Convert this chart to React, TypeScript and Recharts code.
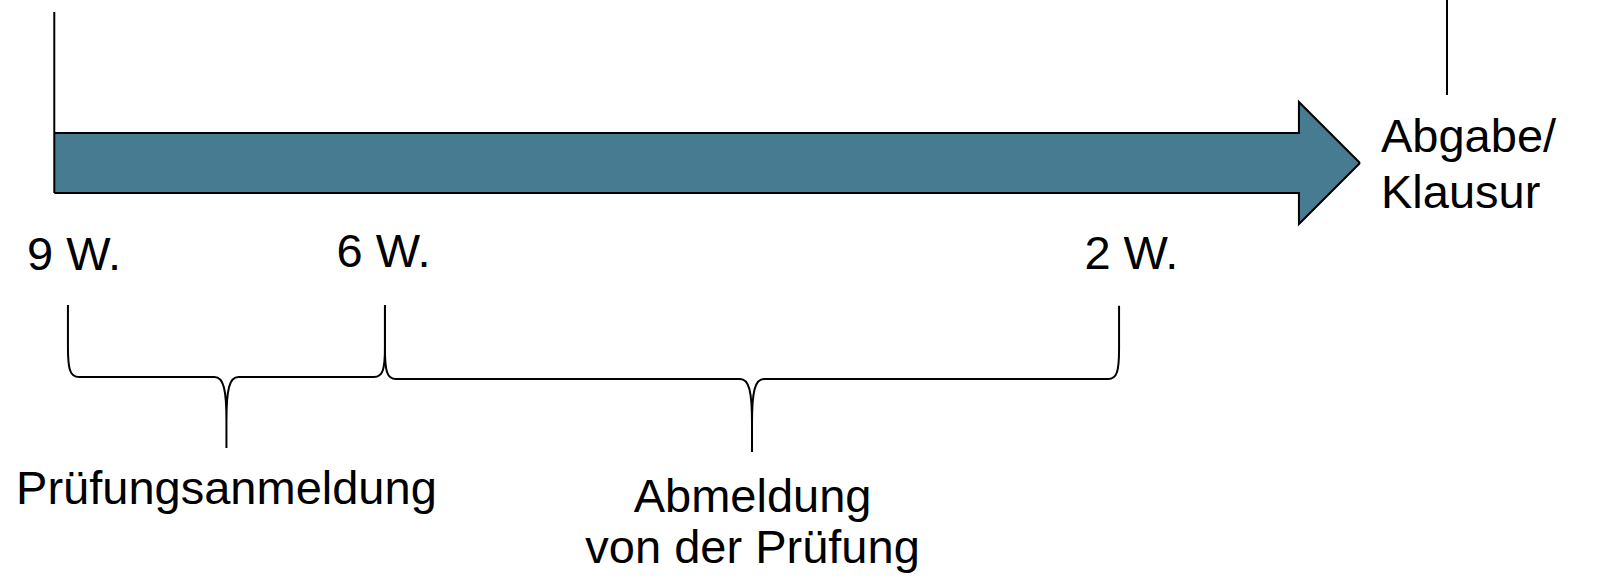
import { ComposedChart, XAxis, YAxis, Area, Scatter, ReferenceLine, ReferenceArea } from 'recharts'

// positions are on a 0–100 scale across the width (x) and down the height (y)
const ARROW_X = [3.38, 80.88, 80.88, 84.68]
const ARROW_TOP = [23.05, 23.05, 17.68, 28.25]
const ARROW_BOTTOM = [33.45, 33.45, 38.82, 28.25]

const MARKER_X = [3.38, 90.1]
const MARKER_FROM = [2.08, 0]
const MARKER_TO = [33.45, 16.46]

const WEEK_LABELS = ['9 W.', '6 W.', '2 W.']
const WEEK_X = [4.61, 23.88, 70.45]
const WEEK_Y = [46.79, 46.27, 46.62]

const BRACE_FROM = [4.23, 23.97]
const BRACE_TO = [23.97, 69.68]
const BRACE_TOP = [52.86, 53.0]
const BRACE_LEVEL = [65.34, 65.68]
const BRACE_TIP = [77.64, 78.34]

const PHASE_LINES = ['Prüfungsanmeldung', 'Abmeldung', 'von der Prüfung']
const PHASE_X = [14.1, 46.86, 46.86]
const PHASE_Y = [87.35, 88.73, 97.57]

const END_LINES = ['Abgabe/', 'Klausur']
const END_X = [85.99, 85.99]
const END_Y = [26.34, 36.05]

const ARROW_FILL = '#467b92'
const INK = '#000000'
const FONT = '"Liberation Sans", Arial, sans-serif'

const arrowData = ARROW_X.map((x, i) => ({ x, range: [ARROW_TOP[i], ARROW_BOTTOM[i]] }))
const weekData = WEEK_LABELS.map((label, i) => ({ x: WEEK_X[i], y: WEEK_Y[i], label }))
const phaseData = PHASE_LINES.map((label, i) => ({ x: PHASE_X[i], y: PHASE_Y[i], label }))
const endData = END_LINES.map((label, i) => ({ x: END_X[i], y: END_Y[i], label }))

function TextMark({ cx, cy, payload, anchor }: any) {
  return (
    <text x={cx} y={cy} textAnchor={anchor} fontFamily={FONT} fontSize={47} fill={INK}>
      {payload.label}
    </text>
  )
}

function Brace({ x, y, width, height, split }: any) {
  const x0 = x
  const x1 = x + width
  const xm = (x0 + x1) / 2
  const yT = y
  const yB = y + height
  const yH = y + height * split
  const r = 11
  const cv = 30
  const rc = 12
  const cd = 44
  const d = [
    `M${x0},${yT}`,
    `L${x0},${yH - cv}`,
    `C${x0},${yH - 8} ${x0 + 2},${yH} ${x0 + r},${yH}`,
    `L${xm - rc},${yH}`,
    `C${xm - 3},${yH} ${xm},${yH + 12} ${xm},${yH + cd}`,
    `L${xm},${yB}`,
    `M${xm},${yH + cd}`,
    `C${xm},${yH + 12} ${xm + 3},${yH} ${xm + rc},${yH}`,
    `L${x1 - r},${yH}`,
    `C${x1 - 2},${yH} ${x1},${yH - 8} ${x1},${yH - cv}`,
    `L${x1},${yT}`,
  ].join(' ')
  return <path d={d} fill="none" stroke={INK} strokeWidth={2} />
}

export default function App() {
  return (
    <div style={{ position: 'absolute', left: 0, top: 0, width: 1606, height: 577, background: '#fff' }}>
      <ComposedChart width={1606} height={577} margin={{ top: 0, right: 0, bottom: 0, left: 0 }}>
        <XAxis type="number" dataKey="x" domain={[0, 100]} hide allowDataOverflow />
        <YAxis type="number" dataKey="y" domain={[0, 100]} reversed hide allowDataOverflow />
        <Area
          data={arrowData}
          dataKey="range"
          type="linear"
          fill={ARROW_FILL}
          fillOpacity={1}
          stroke={INK}
          strokeWidth={2}
          isAnimationActive={false}
          activeDot={false}
          dot={false}
        />
        {MARKER_X.map((x, i) => (
          <ReferenceLine
            key={'m' + i}
            segment={[{ x, y: MARKER_FROM[i] }, { x, y: MARKER_TO[i] }]}
            stroke={INK}
            strokeWidth={2}
          />
        ))}
        {BRACE_FROM.map((x1, i) => (
          <ReferenceArea
            key={'b' + i}
            x1={x1}
            x2={BRACE_TO[i]}
            y1={BRACE_TOP[i]}
            y2={BRACE_TIP[i]}
            shape={(p: any) => (
              <Brace {...p} split={(BRACE_LEVEL[i] - BRACE_TOP[i]) / (BRACE_TIP[i] - BRACE_TOP[i])} />
            )}
          />
        ))}
        <Scatter data={weekData} isAnimationActive={false} shape={(p: any) => <TextMark {...p} anchor="middle" />} />
        <Scatter data={phaseData} isAnimationActive={false} shape={(p: any) => <TextMark {...p} anchor="middle" />} />
        <Scatter data={endData} isAnimationActive={false} shape={(p: any) => <TextMark {...p} anchor="start" />} />
      </ComposedChart>
    </div>
  )
}
